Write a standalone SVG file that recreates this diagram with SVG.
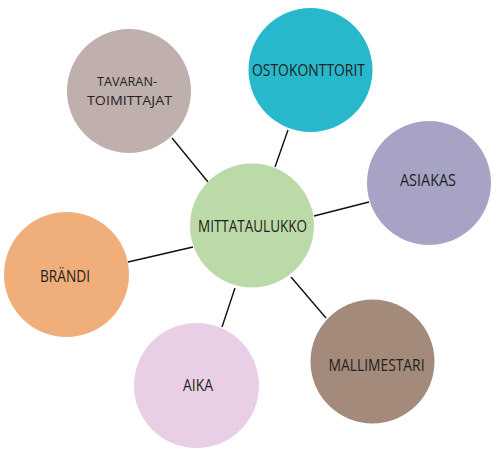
<svg xmlns="http://www.w3.org/2000/svg" width="499" height="455" viewBox="0 0 499 455">
<style>
.lbl{font-family:"Open Sans","Liberation Sans",sans-serif;font-size:16px;fill:#231f20;text-anchor:middle}
.sm{font-size:13.5px}
.con line{stroke:#111;stroke-width:1.4}
</style>
<rect width="499" height="455" fill="#fff"/>
<g id="connectors" class="con">
<line x1="172" y1="138" x2="208" y2="182"/>
<line x1="288" y1="130" x2="275" y2="167"/>
<line x1="314" y1="216" x2="369" y2="202"/>
<line x1="128" y1="262" x2="193" y2="247"/>
<line x1="222" y1="327" x2="235" y2="288"/>
<line x1="291" y1="277" x2="326" y2="318"/>
</g>
<g id="tavarantoimittajat">
<circle cx="129" cy="91" r="62" fill="#bfb0ae"/>
<text class="lbl sm" x="127" y="85.5" textLength="60" lengthAdjust="spacingAndGlyphs">TAVARAN-</text>
<text class="lbl sm" x="129.5" y="104.5" textLength="85" lengthAdjust="spacingAndGlyphs">TOIMITTAJAT</text>
</g>
<g id="ostokonttorit">
<circle cx="310.5" cy="70" r="62" fill="#27b8cc"/>
<text class="lbl" x="308.5" y="76" textLength="113" lengthAdjust="spacingAndGlyphs">OSTOKONTTORIT</text>
</g>
<g id="asiakas">
<circle cx="429" cy="183" r="62" fill="#a7a3c5"/>
<text class="lbl" x="428" y="186" textLength="56" lengthAdjust="spacingAndGlyphs">ASIAKAS</text>
</g>
<g id="mittataulukko">
<circle cx="252" cy="225.5" r="62" fill="#bcd9a8"/>
<text class="lbl" x="252.5" y="232" textLength="109" lengthAdjust="spacingAndGlyphs">MITTATAULUKKO</text>
</g>
<g id="brandi">
<circle cx="66.5" cy="274.5" r="62.5" fill="#f0ae7a"/>
<text class="lbl" x="65" y="282" textLength="50" lengthAdjust="spacingAndGlyphs">BRÄNDI</text>
</g>
<g id="aika">
<circle cx="196.5" cy="385.5" r="62.5" fill="#e8cfe5"/>
<text class="lbl" x="198" y="391" textLength="30" lengthAdjust="spacingAndGlyphs">AIKA</text>
</g>
<g id="mallimestari">
<circle cx="372.5" cy="361.5" r="62" fill="#a48a7a"/>
<text class="lbl" x="376.5" y="371" textLength="96" lengthAdjust="spacingAndGlyphs">MALLIMESTARI</text>
</g>
</svg>
